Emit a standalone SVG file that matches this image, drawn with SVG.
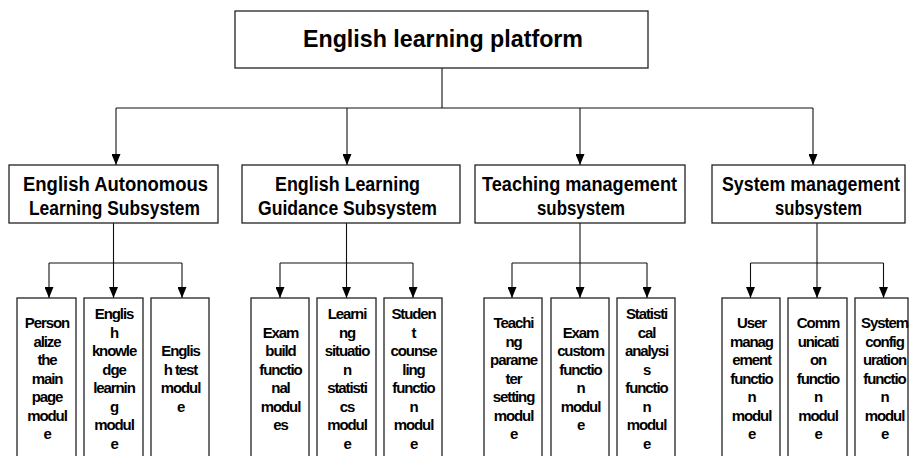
<svg xmlns="http://www.w3.org/2000/svg" width="909" height="456" viewBox="0 0 909 456">
<defs>
<marker id="arr" markerUnits="userSpaceOnUse" markerWidth="12" markerHeight="9" refX="11" refY="4.5" orient="auto">
<path d="M0,0 L11,4.5 L0,9 z" fill="#000"/>
</marker>
<style>
rect{fill:#fff;stroke:#222;stroke-width:1.3}
text{font-family:"Liberation Sans",Arial,sans-serif;font-weight:bold;fill:#000;text-anchor:middle}
.t{font-size:24px}
.s{font-size:20px}
.m{font-size:15px;letter-spacing:-1.1px}
#connectors path{fill:none;stroke:#111;stroke-width:1.1}
.a{marker-end:url(#arr)}
</style>
</defs>
<g id="connectors">
<path d="M442,68 V108 M116,108 H813"/>
<path class="a" d="M116,108 V165"/>
<path class="a" d="M347,108 V165"/>
<path class="a" d="M580,108 V165"/>
<path class="a" d="M813,108 V165"/>
<path d="M49,263 H182"/>
<path class="a" d="M113.5,223 V298"/>
<path class="a" d="M49,263 V298"/>
<path class="a" d="M182,263 V298"/>
<path d="M280,263 H413"/>
<path class="a" d="M346.5,223 V298"/>
<path class="a" d="M280,263 V298"/>
<path class="a" d="M413,263 V298"/>
<path d="M512,263 H647"/>
<path class="a" d="M580,223 V298"/>
<path class="a" d="M512,263 V298"/>
<path class="a" d="M647,263 V298"/>
<path d="M750.5,263 H883.5"/>
<path class="a" d="M817,223 V298"/>
<path class="a" d="M750.5,263 V298"/>
<path class="a" d="M883.5,263 V298"/>
</g>
<g id="root">
<rect x="235" y="11" width="413" height="57"/>
<text class="t" x="443" y="47" textLength="280" lengthAdjust="spacingAndGlyphs">English learning platform</text>
</g>
<g id="sub1">
<rect x="9" y="165" width="209" height="58"/>
<text class="s" x="115.5" y="191" textLength="185" lengthAdjust="spacingAndGlyphs">English Autonomous</text>
<text class="s" x="114.5" y="215" textLength="171" lengthAdjust="spacingAndGlyphs">Learning Subsystem</text>
</g>
<g id="sub2">
<rect x="242" y="165" width="218" height="58"/>
<text class="s" x="347.5" y="191" textLength="145" lengthAdjust="spacingAndGlyphs">English Learning</text>
<text class="s" x="347.5" y="215" textLength="179" lengthAdjust="spacingAndGlyphs">Guidance Subsystem</text>
</g>
<g id="sub3">
<rect x="475" y="165" width="210" height="58"/>
<text class="s" x="579.5" y="191" textLength="195" lengthAdjust="spacingAndGlyphs">Teaching management</text>
<text class="s" x="581" y="215" textLength="88" lengthAdjust="spacingAndGlyphs">subsystem</text>
</g>
<g id="sub4">
<rect x="712" y="165" width="193" height="58"/>
<text class="s" x="811" y="191" textLength="178" lengthAdjust="spacingAndGlyphs">System management</text>
<text class="s" x="818.5" y="215" textLength="87" lengthAdjust="spacingAndGlyphs">subsystem</text>
</g>
<g id="m11">
<rect x="17" y="298" width="59" height="170"/>
<text class="m" y="328"><tspan x="47" dy="0">Person</tspan><tspan x="47" dy="18.5">alize</tspan><tspan x="47" dy="18.5">the</tspan><tspan x="47" dy="18.5">main</tspan><tspan x="47" dy="18.5">page</tspan><tspan x="47" dy="18.5">modul</tspan><tspan x="47" dy="18.5">e</tspan></text>
</g>
<g id="m12">
<rect x="84" y="298" width="59" height="170"/>
<text class="m" y="319"><tspan x="114" dy="0">Englis</tspan><tspan x="114" dy="18.5">h</tspan><tspan x="114" dy="18.5">knowle</tspan><tspan x="114" dy="18.5">dge</tspan><tspan x="114" dy="18.5">learnin</tspan><tspan x="114" dy="18.5">g</tspan><tspan x="114" dy="18.5">modul</tspan><tspan x="114" dy="18.5">e</tspan></text>
</g>
<g id="m13">
<rect x="151" y="298" width="58" height="170"/>
<text class="m" y="356"><tspan x="180.5" dy="0">Englis</tspan><tspan x="180.5" dy="18.5">h test</tspan><tspan x="180.5" dy="18.5">modul</tspan><tspan x="180.5" dy="18.5">e</tspan></text>
</g>
<g id="m21">
<rect x="251" y="298" width="58" height="170"/>
<text class="m" y="337.5"><tspan x="280.5" dy="0">Exam</tspan><tspan x="280.5" dy="18.5">build</tspan><tspan x="280.5" dy="18.5">functio</tspan><tspan x="280.5" dy="18.5">nal</tspan><tspan x="280.5" dy="18.5">modul</tspan><tspan x="280.5" dy="18.5">es</tspan></text>
</g>
<g id="m22">
<rect x="317" y="298" width="59" height="170"/>
<text class="m" y="319"><tspan x="347" dy="0">Learni</tspan><tspan x="347" dy="18.5">ng</tspan><tspan x="347" dy="18.5">situatio</tspan><tspan x="347" dy="18.5">n</tspan><tspan x="347" dy="18.5">statisti</tspan><tspan x="347" dy="18.5">cs</tspan><tspan x="347" dy="18.5">modul</tspan><tspan x="347" dy="18.5">e</tspan></text>
</g>
<g id="m23">
<rect x="384" y="298" width="58" height="170"/>
<text class="m" y="319"><tspan x="413.5" dy="0">Studen</tspan><tspan x="413.5" dy="18.5">t</tspan><tspan x="413.5" dy="18.5">counse</tspan><tspan x="413.5" dy="18.5">ling</tspan><tspan x="413.5" dy="18.5">functio</tspan><tspan x="413.5" dy="18.5">n</tspan><tspan x="413.5" dy="18.5">modul</tspan><tspan x="413.5" dy="18.5">e</tspan></text>
</g>
<g id="m31">
<rect x="484" y="298" width="58" height="170"/>
<text class="m" y="328"><tspan x="513.5" dy="0">Teachi</tspan><tspan x="513.5" dy="18.5">ng</tspan><tspan x="513.5" dy="18.5">parame</tspan><tspan x="513.5" dy="18.5">ter</tspan><tspan x="513.5" dy="18.5">setting</tspan><tspan x="513.5" dy="18.5">modul</tspan><tspan x="513.5" dy="18.5">e</tspan></text>
</g>
<g id="m32">
<rect x="551" y="298" width="58" height="170"/>
<text class="m" y="337.5"><tspan x="580.5" dy="0">Exam</tspan><tspan x="580.5" dy="18.5">custom</tspan><tspan x="580.5" dy="18.5">functio</tspan><tspan x="580.5" dy="18.5">n</tspan><tspan x="580.5" dy="18.5">modul</tspan><tspan x="580.5" dy="18.5">e</tspan></text>
</g>
<g id="m33">
<rect x="617" y="298" width="58" height="170"/>
<text class="m" y="319"><tspan x="646.5" dy="0">Statisti</tspan><tspan x="646.5" dy="18.5">cal</tspan><tspan x="646.5" dy="18.5">analysi</tspan><tspan x="646.5" dy="18.5">s</tspan><tspan x="646.5" dy="18.5">functio</tspan><tspan x="646.5" dy="18.5">n</tspan><tspan x="646.5" dy="18.5">modul</tspan><tspan x="646.5" dy="18.5">e</tspan></text>
</g>
<g id="m41">
<rect x="722" y="298" width="58" height="170"/>
<text class="m" y="328"><tspan x="751.5" dy="0">User</tspan><tspan x="751.5" dy="18.5">manag</tspan><tspan x="751.5" dy="18.5">ement</tspan><tspan x="751.5" dy="18.5">functio</tspan><tspan x="751.5" dy="18.5">n</tspan><tspan x="751.5" dy="18.5">modul</tspan><tspan x="751.5" dy="18.5">e</tspan></text>
</g>
<g id="m42">
<rect x="788" y="298" width="59" height="170"/>
<text class="m" y="328"><tspan x="818" dy="0">Comm</tspan><tspan x="818" dy="18.5">unicati</tspan><tspan x="818" dy="18.5">on</tspan><tspan x="818" dy="18.5">functio</tspan><tspan x="818" dy="18.5">n</tspan><tspan x="818" dy="18.5">modul</tspan><tspan x="818" dy="18.5">e</tspan></text>
</g>
<g id="m43">
<rect x="855" y="298" width="53" height="170"/>
<text class="m" y="328"><tspan x="884.5" dy="0">System</tspan><tspan x="884.5" dy="18.5">config</tspan><tspan x="884.5" dy="18.5">uration</tspan><tspan x="884.5" dy="18.5">functio</tspan><tspan x="884.5" dy="18.5">n</tspan><tspan x="884.5" dy="18.5">modul</tspan><tspan x="884.5" dy="18.5">e</tspan></text>
</g>
</svg>
